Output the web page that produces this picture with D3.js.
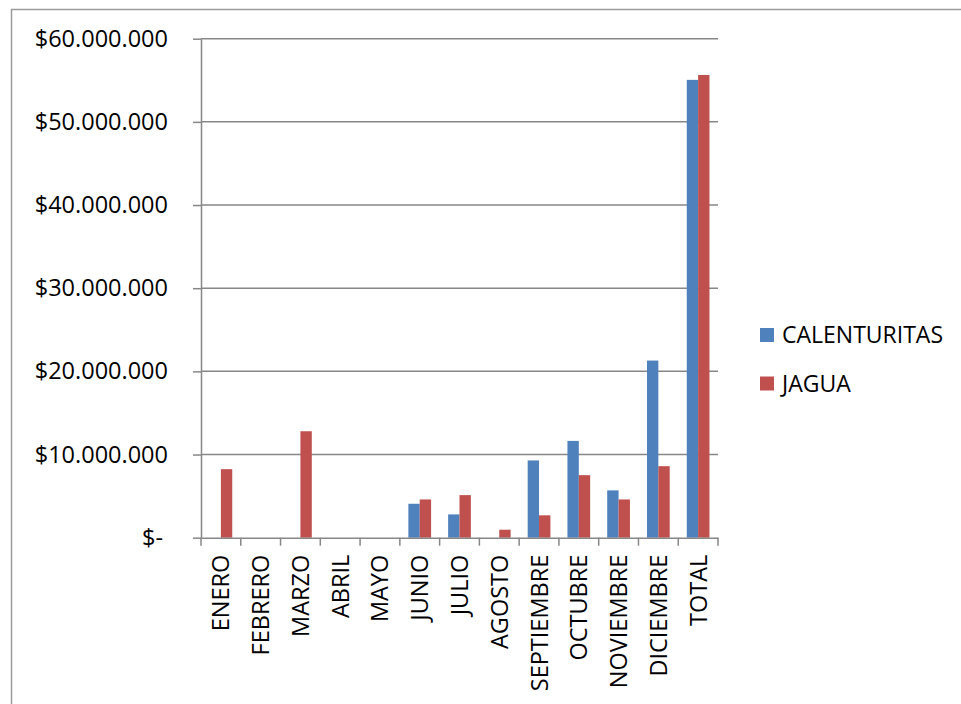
<!DOCTYPE html>
<html>
<head>
<meta charset="utf-8">
<script src="https://cdn.jsdelivr.net/npm/d3@7"></script>
<style>
  html, body { margin: 0; padding: 0; background: #fff; }
  svg { display: block; }
  text { font-family: "Open Sans", "Noto Sans", sans-serif; fill: #000; }
</style>
</head>
<body>
<svg id="chart" width="961" height="704"></svg>
<script>
// Monthly amounts per site (pesos)
const categories = ["ENERO", "FEBRERO", "MARZO", "ABRIL", "MAYO", "JUNIO", "JULIO",
  "AGOSTO", "SEPTIEMBRE", "OCTUBRE", "NOVIEMBRE", "DICIEMBRE", "TOTAL"];
const seriesNames = ["CALENTURITAS", "JAGUA"];
const calenturitas = [0, 0, 0, 0, 0, 4080000, 2800000, 0, 9290000, 11640000, 5690000, 21300000, 55050000];
const jagua = [8240000, 0, 12800000, 0, 0, 4600000, 5120000, 960000, 2690000, 7520000, 4600000, 8600000, 55640000];
const yTicks = [0, 10000000, 20000000, 30000000, 40000000, 50000000, 60000000];
const colors = ["#4F81BD", "#C0504D"];

const seriesValues = [calenturitas, jagua];
const rows = categories.map((c, i) => ({
  cat: c,
  vals: seriesNames.map((s, k) => ({ key: s, value: seriesValues[k][i] }))
}));

const svg = d3.select("#chart");
const gridColor = "#878787";

// outer chart frame
svg.append("rect")
  .attr("x", 11.5).attr("y", 9.5)
  .attr("width", 961).attr("height", 720)
  .attr("fill", "none").attr("stroke", "#9a9a9a").attr("stroke-width", 1.5);

const plot = { left: 201, right: 718, top: 38.7, bottom: 537.7 };

const x0 = d3.scaleBand().domain(categories).range([plot.left, plot.right]).paddingInner(0).paddingOuter(0);
const x1 = d3.scaleBand().domain(seriesNames).range([0, x0.bandwidth()]).paddingInner(0).paddingOuter(0.75);
const y = d3.scaleLinear().domain([0, 60000000]).range([plot.bottom, plot.top]);

const fmt = v => v === 0 ? "$-" : "$" + d3.format(",")(v).replace(/,/g, ".");

// horizontal gridlines
svg.append("g")
  .selectAll("line")
  .data(yTicks.filter(t => t > 0))
  .join("line")
  .attr("x1", plot.left).attr("x2", plot.right)
  .attr("y1", d => y(d)).attr("y2", d => y(d))
  .attr("stroke", gridColor).attr("stroke-width", 1.5);

// bars
svg.append("g")
  .selectAll("g")
  .data(rows)
  .join("g")
  .attr("transform", d => `translate(${x0(d.cat)},0)`)
  .selectAll("rect")
  .data(d => d.vals)
  .join("rect")
  .attr("x", d => x1(d.key))
  .attr("width", x1.bandwidth())
  .attr("y", d => y(d.value))
  .attr("height", d => y(0) - y(d.value))
  .attr("fill", (d, i) => colors[i]);

// y axis
const yAxis = svg.append("g")
  .attr("transform", `translate(${plot.left},0)`)
  .call(d3.axisLeft(y).tickValues(yTicks).tickFormat(fmt).tickSize(8).tickSizeOuter(0).tickPadding(25));
yAxis.select(".domain").attr("stroke", gridColor).attr("stroke-width", 1.5);
yAxis.selectAll(".tick line").attr("stroke", gridColor).attr("stroke-width", 1.5);
yAxis.selectAll(".tick text")
  .attr("font-size", 23.5)
  .attr("font-family", "'Open Sans', sans-serif")
  .attr("fill", "#000")
  .attr("dx", d => d === 0 ? -5 : 0);

// x axis
const xAxis = svg.append("g")
  .attr("transform", `translate(0,${plot.bottom})`)
  .call(d3.axisBottom(x0).tickSize(0).tickSizeOuter(0));
xAxis.select(".domain").attr("stroke", gridColor).attr("stroke-width", 1.5);
xAxis.selectAll(".tick line").remove();
// category boundary tick marks
xAxis.append("g")
  .selectAll("line")
  .data(categories.map(c => x0(c)).concat([x0(categories[categories.length - 1]) + x0.bandwidth()]))
  .join("line")
  .attr("x1", d => d).attr("x2", d => d)
  .attr("y1", 0).attr("y2", 8)
  .attr("stroke", gridColor).attr("stroke-width", 1.5);
xAxis.selectAll(".tick text")
  .attr("font-size", 23.5)
  .attr("font-family", "'Open Sans', sans-serif")
  .attr("fill", "#000")
  .attr("text-anchor", "end")
  .attr("transform", "translate(0,17) rotate(-90)")
  .attr("x", 0).attr("y", 0).attr("dy", "0.36em");

// legend
const legend = svg.append("g");
const legendY = [335, 383.5];
seriesNames.forEach((s, i) => {
  legend.append("rect")
    .attr("x", 760).attr("y", legendY[i] - 7)
    .attr("width", 14).attr("height", 14)
    .attr("fill", colors[i]);
  legend.append("text")
    .attr("x", 782).attr("y", legendY[i]).attr("dy", "0.36em")
    .attr("font-size", 23)
    .text(s);
});
</script>
</body>
</html>
